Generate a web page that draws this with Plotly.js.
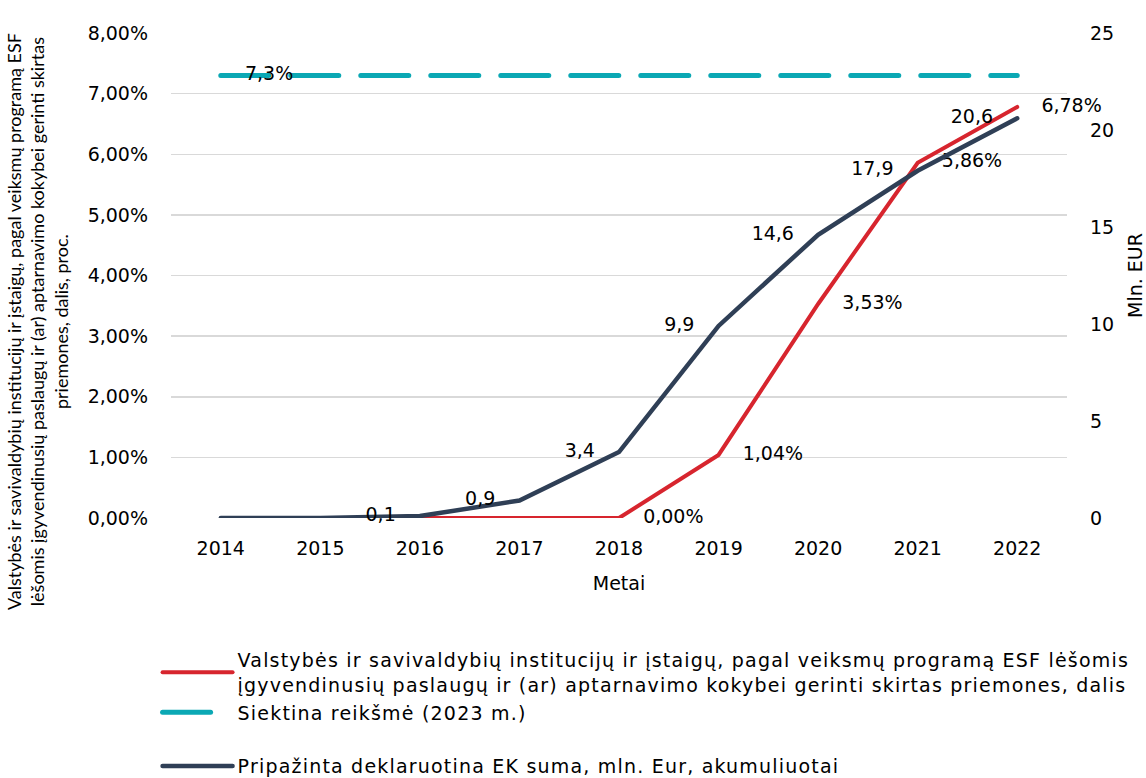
<!DOCTYPE html>
<html>
<head>
<meta charset="utf-8">
<script src="https://cdn.plot.ly/plotly-3.0.1.min.js"></script>
<style>
html,body{margin:0;padding:0;background:#fff;}
#chart{width:1146px;height:778px;}
.js-line{stroke-linecap:round;}
.legendtext{letter-spacing:1.2px;}
</style>
</head>
<body>
<div id="chart"></div>
<script>
const years = ['2014','2015','2016','2017','2018','2019','2020','2021','2022'];
const shareValues = [null, null, 0, 0, 0, 1.04, 3.53, 5.86, 6.78];
const shareLabels = ['', '', '', '', '0,00%', '1,04%', '3,53%', '5,86%', '6,78%'];
const targetValues = [7.3, 7.3, 7.3, 7.3, 7.3, 7.3, 7.3, 7.3, 7.3];
const targetLabels = ['7,3%', '', '', '', '', '', '', '', ''];
const amountValues = [0, 0, 0.1, 0.9, 3.4, 9.9, 14.6, 17.9, 20.6];
const amountLabels = ['', '', '0,1', '0,9', '3,4', '9,9', '14,6', '17,9', '20,6'];
const leftTitle = 'Valstybės ir savivaldybių institucijų ir įstaigų, pagal veiksmų programą ESF<br>lėšomis įgyvendinusių paslaugų ir (ar) aptarnavimo kokybei gerinti skirtas<br>priemones, dalis, proc.';

const pad = '\u00A0\u00A0\u00A0\u00A0';
const FONT = '"DejaVu Sans", sans-serif';
const FS = 19;

const traces = [
  {
    x: years, y: shareValues, yaxis: 'y', type: 'scatter', mode: 'lines+text',
    name: 'Valstybės ir savivaldybių institucijų ir įstaigų, pagal veiksmų programą ESF lėšomis<br>įgyvendinusių paslaugų ir (ar) aptarnavimo kokybei gerinti skirtas priemones, dalis',
    text: shareLabels.map(t => t ? pad + t : ''), textposition: 'middle right',
    line: {color: '#D7252E', width: 4},
    textfont: {family: FONT, size: FS, color: '#000'},
    legendgroup: 'g1', cliponaxis: false, hoverinfo: 'skip'
  },
  {
    x: years, y: targetValues, yaxis: 'y', type: 'scatter', mode: 'lines+text',
    name: 'Siektina reikšmė (2023 m.)',
    text: targetLabels.map(t => t ? pad + t : ''), textposition: 'middle right',
    line: {color: '#0BA8B4', width: 5, dash: '48px,22px'},
    textfont: {family: FONT, size: FS, color: '#000'},
    legendgroup: 'g1', cliponaxis: false, hoverinfo: 'skip'
  },
  {
    x: years, y: amountValues, yaxis: 'y2', type: 'scatter', mode: 'lines+text',
    name: 'Pripažinta deklaruotina EK suma, mln. Eur, akumuliuotai',
    text: amountLabels.map(t => t ? t + pad : ''), textposition: 'middle left',
    line: {color: '#2F3F56', width: 4.5},
    textfont: {family: FONT, size: FS, color: '#000'},
    legendgroup: 'g2', cliponaxis: false, hoverinfo: 'skip'
  }
];

const layout = {
  width: 1146, height: 778,
  margin: {l: 171, r: 79, t: 33, b: 260, pad: 0, autoexpand: false},
  paper_bgcolor: '#fff', plot_bgcolor: '#fff',
  separators: ',.',
  font: {family: FONT, size: FS, color: '#000'},
  showlegend: true,
  xaxis: {
    type: 'category', range: [-0.5, 8.5],
    showgrid: false, zeroline: false, showline: false, ticks: '',
    ticklabelstandoff: 17,
    tickfont: {family: FONT, size: FS, color: '#000'},
    title: {text: 'Metai', font: {family: FONT, size: FS, color: '#000'}, standoff: 18}
  },
  yaxis: {
    range: [0, 8], dtick: 1, tick0: 0, tickformat: '.2f', ticksuffix: '%',
    showgrid: true, gridcolor: '#D9D9D9', gridwidth: 1.5,
    zeroline: false, showline: false, ticks: '',
    ticklabelstandoff: 22,
    tickfont: {family: FONT, size: FS, color: '#000'}
  },
  yaxis2: {
    overlaying: 'y', side: 'right', anchor: 'x',
    range: [0, 25], dtick: 5, tick0: 0,
    showgrid: false, zeroline: false, showline: false, ticks: '',
    ticklabelstandoff: 22,
    tickfont: {family: FONT, size: FS, color: '#000'},
    title: {text: 'Mln. EUR', font: {family: FONT, size: FS, color: '#000'}, standoff: 16}
  },
  annotations: [{
    text: leftTitle, textangle: -90, showarrow: false,
    xref: 'paper', yref: 'paper', x: -0.1495, y: 0.404,
    xanchor: 'center', yanchor: 'middle', align: 'center',
    font: {family: 'Lato, sans-serif', size: 18, color: '#000'}
  }],
  legend: {
    orientation: 'v', xref: 'container', yref: 'container',
    x: 0.1375, xanchor: 'left', y: 0.176, yanchor: 'top',
    font: {family: FONT, size: 19, color: '#000'},
    itemwidth: 70, tracegroupgap: 26, traceorder: 'grouped',
    bgcolor: 'rgba(0,0,0,0)'
  }
};

Plotly.newPlot('chart', traces, layout, {displayModeBar: false, staticPlot: true});
</script>
</body>
</html>
